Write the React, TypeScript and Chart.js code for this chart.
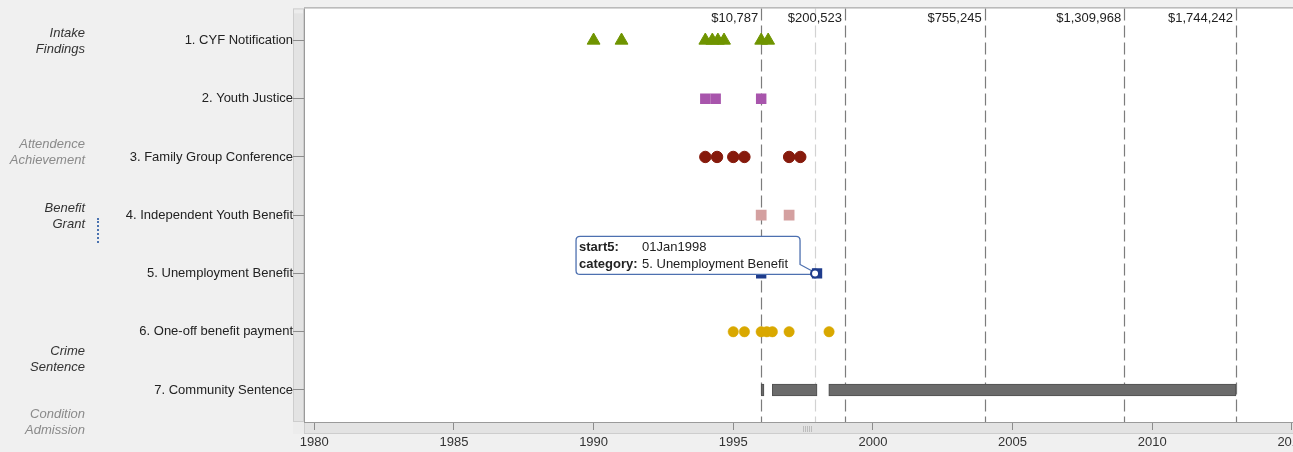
import React, { useEffect, useRef } from 'react';
import { Chart, registerables } from 'chart.js';

Chart.register(...registerables);

// ---------- data ----------
const categories = [
  '1. CYF Notification',
  '2. Youth Justice',
  '3. Family Group Conference',
  '4. Independent Youth Benefit',
  '5. Unemployment Benefit',
  '6. One-off benefit payment',
  '7. Community Sentence',
];
const cyfNotification = [1990.0, 1991.0, 1994.0, 1994.25, 1994.45, 1994.67, 1996.0, 1996.25];
const youthJustice = [1994.0, 1994.37, 1996.0];
const familyGroupConference = [1994.0, 1994.42, 1995.0, 1995.4, 1997.0, 1997.4];
const independentYouthBenefit = [1996.0, 1997.0];
const unemploymentBenefit = [1996.0, 1998.0];
const oneOffPayment = [1995.0, 1995.4, 1996.0, 1996.2, 1996.4, 1997.0, 1998.43];
const communityStart = [1996.0, 1996.4, 1998.42];
const communityEnd = [1996.1, 1998.0, 2013.0];
const refYears = [1996, 1999, 2004, 2009, 2013];
const refLabels = ['$10,787', '$200,523', '$755,245', '$1,309,968', '$1,744,242'];
const xTickYears = [1980, 1985, 1990, 1995, 2000, 2005, 2010, 2015];
const hoverYear = 1998.0;
const hoverCategory = 5;
const tooltipKeys = ['start5:', 'category:'];
const tooltipValues = ['01Jan1998', '5. Unemployment Benefit'];
const groupLabels = [
  ['Intake', 'Findings'],
  ['Attendence', 'Achievement'],
  ['Benefit', 'Grant'],
  ['Crime', 'Sentence'],
  ['Condition', 'Admission'],
];

const FONT = 'Arial, "Liberation Sans", sans-serif';
const X_MIN = 1979.631;
const X_MAX = 2016.008;

const decorPlugin = {
  id: 'decor',
  beforeDraw(chart: any) {
    const { ctx, chartArea } = chart;
    const { left, right, top, bottom } = chartArea;
    ctx.save();
    ctx.fillStyle = '#ffffff';
    ctx.fillRect(left, top, right - left, bottom - top);
    // left strip
    ctx.fillStyle = '#e3e3e3';
    ctx.fillRect(left - 11, top, 11, bottom - top);
    ctx.fillStyle = '#ececec';
    ctx.fillRect(left - 11, top, 11, 5);
    ctx.strokeStyle = '#cdcdcd';
    ctx.lineWidth = 1;
    ctx.strokeRect(left - 10.5, top + 0.5, 10, bottom - top - 1);
    // bottom strip
    ctx.fillStyle = '#e3e3e3';
    ctx.fillRect(left, bottom, right - left, 12);
    ctx.strokeStyle = '#cdcdcd';
    ctx.strokeRect(left + 0.5, bottom + 0.5, right - left, 11);
    ctx.fillStyle = '#ececec';
    ctx.fillRect(left - 11, bottom, 11, 12);
    const gx = (left + right) / 2 - 9;
    ctx.strokeStyle = '#bdbdbd';
    for (let i = 0; i < 5; i++) {
      ctx.beginPath();
      ctx.moveTo(gx + i * 2 + 0.5, bottom + 4);
      ctx.lineTo(gx + i * 2 + 0.5, bottom + 10);
      ctx.stroke();
    }
    ctx.restore();
  },
  beforeDatasetsDraw(chart: any) {
    const { ctx, chartArea, scales } = chart;
    const { top, bottom } = chartArea;
    const xs = scales.x;
    ctx.save();
    ctx.lineWidth = 1.2;
    ctx.setLineDash([12, 5]);
    const hx = Math.round(xs.getPixelForValue(hoverYear)) - 1.5;
    ctx.strokeStyle = '#d2d2d2';
    ctx.beginPath();
    ctx.moveTo(hx, top);
    ctx.lineTo(hx, bottom);
    ctx.stroke();
    ctx.strokeStyle = '#7c7c7c';
    refYears.forEach((yr) => {
      const x = Math.round(xs.getPixelForValue(yr)) + 0.5;
      ctx.beginPath();
      ctx.moveTo(x, top);
      ctx.lineTo(x, bottom);
      ctx.stroke();
    });
    ctx.setLineDash([]);
    ctx.fillStyle = '#222';
    ctx.font = `13px ${FONT}`;
    ctx.textAlign = 'right';
    ctx.textBaseline = 'middle';
    refYears.forEach((yr, i) => {
      const x = xs.getPixelForValue(yr);
      ctx.fillText(refLabels[i], x - 3, top + 10);
    });
    ctx.restore();
  },
  afterDraw(chart: any) {
    const { ctx, chartArea, scales } = chart;
    const { left, right, top, bottom } = chartArea;
    ctx.save();
    ctx.strokeStyle = '#9a9a9a';
    ctx.lineWidth = 1;
    ctx.beginPath();
    ctx.moveTo(left + 0.5, top);
    ctx.lineTo(left + 0.5, bottom);
    ctx.moveTo(left, top - 0.5);
    ctx.lineTo(right, top - 0.5);
    ctx.moveTo(left, bottom + 0.5);
    ctx.lineTo(right, bottom + 0.5);
    ctx.stroke();

    const px = scales.x.getPixelForValue(hoverYear) - 2;
    const py = scales.y.getPixelForValue(hoverCategory);

    // tooltip
    const bRight = px - 15;
    const bBottom = py + 1;
    const bTop = bBottom - 38;
    const bLeft = bRight - 224;
    const r = 4;
    ctx.beginPath();
    ctx.moveTo(bLeft + r, bTop);
    ctx.lineTo(bRight - r, bTop);
    ctx.quadraticCurveTo(bRight, bTop, bRight, bTop + r);
    ctx.lineTo(bRight, bBottom - 10);
    ctx.lineTo(px - 2, py - 2);
    ctx.lineTo(px - 3, py + 1);
    ctx.lineTo(bRight - 10, bBottom);
    ctx.lineTo(bLeft + r, bBottom);
    ctx.quadraticCurveTo(bLeft, bBottom, bLeft, bBottom - r);
    ctx.lineTo(bLeft, bTop + r);
    ctx.quadraticCurveTo(bLeft, bTop, bLeft + r, bTop);
    ctx.closePath();
    ctx.fillStyle = '#ffffff';
    ctx.fill();
    ctx.strokeStyle = '#4d70b0';
    ctx.lineWidth = 1.3;
    ctx.stroke();

    ctx.textAlign = 'left';
    ctx.textBaseline = 'middle';
    ctx.fillStyle = '#222';
    tooltipKeys.forEach((k, i) => {
      const ty = bTop + 11 + i * 17;
      ctx.font = `bold 13px ${FONT}`;
      ctx.fillText(k, bLeft + 3, ty);
      ctx.font = `13px ${FONT}`;
      ctx.fillText(tooltipValues[i], bLeft + 66, ty);
    });

    // ring marker
    ctx.beginPath();
    ctx.arc(px, py, 4, 0, Math.PI * 2);
    ctx.fillStyle = '#ffffff';
    ctx.fill();
    ctx.strokeStyle = '#1f3c8c';
    ctx.lineWidth = 2;
    ctx.stroke();
    ctx.restore();
  },
};

function pts(values: number[], cat: number) {
  return values.map((x) => ({ x, y: cat }));
}

export default function App() {
  const ref = useRef<HTMLCanvasElement | null>(null);

  useEffect(() => {
    if (!ref.current) return;
    const chart = new Chart(ref.current, {
      type: 'scatter',
      data: {
        datasets: [
          {
            type: 'bar',
            label: categories[6],
            indexAxis: 'y',
            data: communityStart.map((s, i) => ({ x: [s, communityEnd[i]], y: 7 })) as any,
            backgroundColor: '#6b6b6b',
            borderColor: '#4f4f4f',
            borderWidth: 1,
            borderSkipped: false,
            barThickness: 12,
          } as any,
          {
            label: categories[0],
            data: pts(cyfNotification, 1),
            pointStyle: 'triangle',
            pointRadius: 7.4,
            backgroundColor: '#6f9400',
            borderColor: '#6f9400',
            pointBorderWidth: 1,
          },
          {
            label: categories[1],
            data: pts(youthJustice, 2),
            pointStyle: 'rect',
            pointRadius: 7.4,
            backgroundColor: '#a855ac',
            borderColor: '#a855ac',
            pointBorderWidth: 0,
          },
          {
            label: categories[2],
            data: pts(familyGroupConference, 3),
            pointStyle: 'circle',
            pointRadius: 5.7,
            backgroundColor: '#861a0c',
            borderColor: '#861a0c',
            pointBorderWidth: 1,
          },
          {
            label: categories[3],
            data: pts(independentYouthBenefit, 4),
            pointStyle: 'rect',
            pointRadius: 7.6,
            backgroundColor: '#d4a0a0',
            borderColor: '#d4a0a0',
            pointBorderWidth: 0,
          },
          {
            label: categories[4],
            data: pts(unemploymentBenefit, 5),
            pointStyle: 'rect',
            pointRadius: 7.3,
            backgroundColor: '#1f3c8c',
            borderColor: '#1f3c8c',
            pointBorderWidth: 0,
          },
          {
            label: categories[5],
            data: pts(oneOffPayment, 6),
            pointStyle: 'circle',
            pointRadius: 5.2,
            backgroundColor: '#d9a800',
            borderColor: '#d9a800',
            pointBorderWidth: 0.5,
          },
        ],
      },
      options: {
        responsive: false,
        animation: false,
        events: [],
        layout: { padding: { top: 8, right: 20, left: 0, bottom: 0 } },
        plugins: {
          legend: { display: false },
          tooltip: { enabled: false },
        },
        scales: {
          x: {
            type: 'linear',
            min: X_MIN,
            max: X_MAX,
            offset: false,
            afterBuildTicks: (s: any) => {
              s.ticks = xTickYears.map((v) => ({ value: v }));
            },
            afterFit: (s: any) => {
              s.height = 30;
            },
            grid: {
              offset: false,
              drawOnChartArea: false,
              drawTicks: true,
              tickLength: 8,
              color: '#8c8c8c',
            },
            border: { display: false },
            ticks: {
              autoSkip: false,
              maxRotation: 0,
              padding: 5,
              color: '#333',
              font: { size: 13, family: FONT },
              callback: (v: any) => String(v),
            },
          },
          y: {
            type: 'linear',
            reverse: true,
            min: 0.45,
            max: 7.55,
            offset: false,
            afterBuildTicks: (s: any) => {
              s.ticks = categories.map((_, i) => ({ value: i + 1 }));
            },
            afterFit: (s: any) => {
              s.width = 304;
            },
            grid: {
              offset: false,
              drawOnChartArea: false,
              drawTicks: true,
              tickLength: 11,
              color: '#8c8c8c',
            },
            border: { display: false },
            ticks: {
              autoSkip: false,
              padding: 0,
              color: '#222',
              font: { size: 13, family: FONT },
              callback: (v: any) => categories[Math.round(v) - 1] ?? '',
            },
          },
        },
      } as any,
      plugins: [decorPlugin],
    });
    return () => chart.destroy();
  }, []);

  const groupTops = [25, 136, 200, 343, 406];
  const groupColors = ['#333', '#8a8a8a', '#333', '#333', '#8a8a8a'];

  return (
    <div
      style={{
        position: 'fixed',
        top: 0,
        left: 0,
        width: 1293,
        height: 452,
        overflow: 'hidden',
        background: '#f0f0f0',
      }}
    >
      <canvas ref={ref} width={1340} height={452} style={{ display: 'block', position: 'absolute', left: 0, top: 0 }} />
      {groupLabels.map((g, i) => (
        <div
          key={i}
          style={{
            position: 'absolute',
            left: 0,
            width: 85,
            top: groupTops[i],
            textAlign: 'right',
            fontFamily: FONT,
            fontStyle: 'italic',
            fontSize: 13,
            lineHeight: '16px',
            color: groupColors[i],
          }}
        >
          {g[0]}
          <br />
          {g[1]}
        </div>
      ))}
      <div
        style={{
          position: 'absolute',
          left: 97,
          top: 218,
          height: 25,
          borderLeft: '2px dotted #4a72b0',
        }}
      />
    </div>
  );
}
